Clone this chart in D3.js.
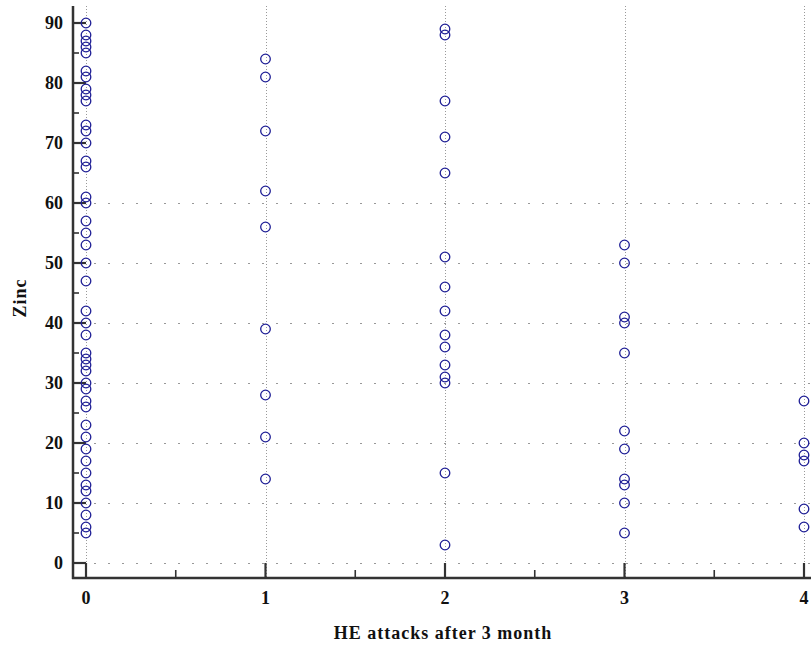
<!DOCTYPE html>
<html>
<head>
<meta charset="utf-8">
<script src="https://cdn.jsdelivr.net/npm/d3@7"></script>
<style>
  html, body { margin: 0; padding: 0; background: #fff; }
  svg { display: block; }
  text { font-family: "Liberation Serif", "Times New Roman", serif; font-weight: bold; fill: #111; }
</style>
</head>
<body>
<svg id="chart" width="811" height="648"></svg>
<script>
// Zinc level grouped by number of HE attacks after 3 months
const attacks = [0, 1, 2, 3, 4];
const zincAt0 = [90, 88, 87, 86, 85, 82, 81, 79, 78, 77, 73, 72, 70, 67, 66, 61, 60, 57, 55, 53, 50, 47,
                 42, 40, 38, 35, 34, 33, 32, 30, 29, 27, 26, 23, 21, 19, 17, 15, 13, 12, 10, 8, 6, 5];
const zincAt1 = [84, 81, 72, 62, 56, 39, 28, 21, 14];
const zincAt2 = [89, 88, 77, 71, 65, 51, 46, 42, 38, 36, 33, 31, 30, 15, 3];
const zincAt3 = [53, 50, 41, 40, 35, 22, 19, 14, 13, 10, 5];
const zincAt4 = [27, 20, 18, 17, 9, 6];
const yTicks = [0, 10, 20, 30, 40, 50, 60, 70, 80, 90];
const yMinorTicks = [5, 15, 25, 35, 45, 55, 65, 75, 85];
const xMinorTicks = [0.5, 1.5, 2.5, 3.5];
const yGridTicks = [0, 10, 20, 30, 40, 50, 60];
const xTitle = "HE attacks after 3 month";
const yTitle = "Zinc";

const groups = [zincAt0, zincAt1, zincAt2, zincAt3, zincAt4];
const points = [];
groups.forEach((vals, i) => vals.forEach(v => points.push({ x: attacks[i], y: v })));

const svg = d3.select("#chart");
const axisX = 73, axisY = 578, topY = 6, rightX = 811;

const x = d3.scaleLinear().domain([0, 4]).range([86, 804]);
const y = d3.scaleLinear().domain([0, 90]).range([563, 23]);

// grid: dense dotted verticals at each category, sparse dots across lower rows
const grid = svg.append("g");
grid.selectAll("line.vg").data(attacks).join("line")
  .attr("x1", d => Math.round(x(d)) + 0.5).attr("x2", d => Math.round(x(d)) + 0.5)
  .attr("y1", topY).attr("y2", axisY)
  .attr("stroke", "#999").attr("stroke-width", 1).attr("stroke-dasharray", "1,2");
grid.selectAll("line.hg").data(yGridTicks).join("line")
  .attr("x1", x(0) + 8).attr("x2", rightX)
  .attr("y1", d => Math.round(y(d)) + 0.5).attr("y2", d => Math.round(y(d)) + 0.5)
  .attr("stroke", "#999").attr("stroke-width", 1).attr("stroke-dasharray", "2,12");

// axes lines
const axisColor = "#333";
svg.append("line").attr("x1", axisX).attr("x2", axisX).attr("y1", topY).attr("y2", axisY + 1)
  .attr("stroke", axisColor).attr("stroke-width", 2.5);
svg.append("line").attr("x1", axisX - 1).attr("x2", rightX).attr("y1", axisY).attr("y2", axisY)
  .attr("stroke", axisColor).attr("stroke-width", 2.5);

// y ticks (pointing inward)
const yMajorLen = 13, yMinorLen = 6;
svg.selectAll("line.ytm").data(yTicks).join("line")
  .attr("x1", axisX).attr("x2", axisX + yMajorLen)
  .attr("y1", d => y(d)).attr("y2", d => y(d))
  .attr("stroke", axisColor).attr("stroke-width", 2.2);
svg.selectAll("line.ytn").data(yMinorTicks).join("line")
  .attr("x1", axisX).attr("x2", axisX + yMinorLen)
  .attr("y1", d => y(d)).attr("y2", d => y(d))
  .attr("stroke", axisColor).attr("stroke-width", 1.6);

// x ticks (pointing up)
svg.selectAll("line.xtm").data(attacks).join("line")
  .attr("x1", d => x(d)).attr("x2", d => x(d))
  .attr("y1", axisY).attr("y2", axisY - 15)
  .attr("stroke", axisColor).attr("stroke-width", 2.2);
svg.selectAll("line.xtn").data(xMinorTicks).join("line")
  .attr("x1", d => x(d)).attr("x2", d => x(d))
  .attr("y1", axisY).attr("y2", axisY - 8)
  .attr("stroke", axisColor).attr("stroke-width", 1.6);

// tick labels
svg.selectAll("text.yl").data(yTicks).join("text")
  .attr("x", 63).attr("y", d => y(d)).attr("dy", "0.35em")
  .attr("text-anchor", "end").attr("font-size", 18).text(d => d);
svg.selectAll("text.xl").data(attacks).join("text")
  .attr("x", d => x(d)).attr("y", 604)
  .attr("text-anchor", "middle").attr("font-size", 18).text(d => d);

// titles
svg.append("text").attr("x", 443).attr("y", 639).attr("text-anchor", "middle")
  .attr("font-size", 18).attr("letter-spacing", 1).text(xTitle);
svg.append("text").attr("transform", "translate(26,298) rotate(-90)")
  .attr("text-anchor", "middle").attr("font-size", 18).attr("letter-spacing", 1).text(yTitle);

// points
svg.append("g").selectAll("circle").data(points).join("circle")
  .attr("cx", d => x(d.x)).attr("cy", d => y(d.y)).attr("r", 4.8)
  .attr("fill", "none").attr("stroke", "#1f1f96").attr("stroke-width", 1.3);
</script>
</body>
</html>
